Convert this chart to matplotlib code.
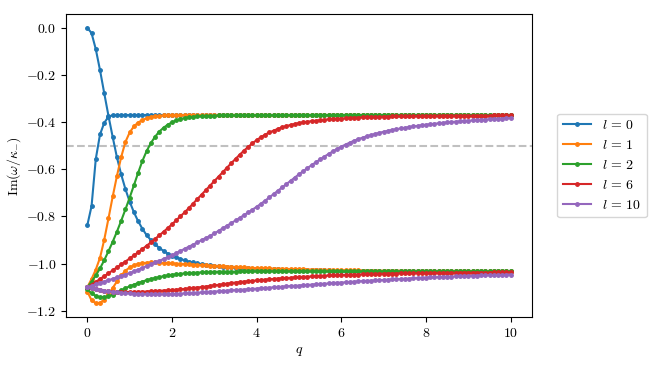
import matplotlib
matplotlib.use("Agg")
import matplotlib.pyplot as plt

plt.rcParams['font.family'] = 'serif'
plt.rcParams['font.serif'] = ['cmr10']
plt.rcParams['mathtext.fontset'] = 'cm'
plt.rcParams['axes.formatter.use_mathtext'] = True

# q grid (0.0 ... 10.0 in steps of 0.1)
q = [0.0, 0.1, 0.2, 0.3, 0.4, 0.5, 0.6, 0.7, 0.8, 0.9,
     1.0, 1.1, 1.2, 1.3, 1.4, 1.5, 1.6, 1.7, 1.8, 1.9,
     2.0, 2.1, 2.2, 2.3, 2.4, 2.5, 2.6, 2.7, 2.8, 2.9,
     3.0, 3.1, 3.2, 3.3, 3.4, 3.5, 3.6, 3.7, 3.8, 3.9,
     4.0, 4.1, 4.2, 4.3, 4.4, 4.5, 4.6, 4.7, 4.8, 4.9,
     5.0, 5.1, 5.2, 5.3, 5.4, 5.5, 5.6, 5.7, 5.8, 5.9,
     6.0, 6.1, 6.2, 6.3, 6.4, 6.5, 6.6, 6.7, 6.8, 6.9,
     7.0, 7.1, 7.2, 7.3, 7.4, 7.5, 7.6, 7.7, 7.8, 7.9,
     8.0, 8.1, 8.2, 8.3, 8.4, 8.5, 8.6, 8.7, 8.8, 8.9,
     9.0, 9.1, 9.2, 9.3, 9.4, 9.5, 9.6, 9.7, 9.8, 9.9,
     10.0]

labels = [r'$l\,=\,0$', r'$l\,=\,1$', r'$l\,=\,2$', r'$l\,=\,6$', r'$l\,=\,10$']
colors = ['#1f77b4', '#ff7f0e', '#2ca02c', '#d62728', '#9467bd']

# l = 0
l0_a = [0.000, -0.023, -0.091, -0.180, -0.278, -0.374, -0.464, -0.550, -0.622, -0.684,
        -0.737, -0.782, -0.820, -0.852, -0.879, -0.900, -0.918, -0.933, -0.946, -0.957,
        -0.966, -0.973, -0.980, -0.986, -0.991, -0.995, -0.999, -1.002, -1.005, -1.007,
        -1.009, -1.011, -1.013, -1.014, -1.016, -1.017, -1.018, -1.019, -1.020, -1.021,
        -1.022, -1.022, -1.023, -1.023, -1.024, -1.024, -1.025, -1.025, -1.026, -1.026,
        -1.026, -1.027, -1.027, -1.027, -1.028, -1.028, -1.028, -1.028, -1.029, -1.029,
        -1.029, -1.029, -1.030, -1.030, -1.030, -1.030, -1.030, -1.030, -1.031, -1.031,
        -1.031, -1.031, -1.031, -1.031, -1.031, -1.031, -1.031, -1.031, -1.031, -1.031,
        -1.031, -1.031, -1.032, -1.032, -1.032, -1.032, -1.032, -1.032, -1.032, -1.032,
        -1.032, -1.032, -1.032, -1.032, -1.032, -1.032, -1.032, -1.032, -1.032, -1.032,
        -1.032]
l0_b = [-0.837, -0.756, -0.556, -0.452, -0.403, -0.377, -0.371, -0.370, -0.370, -0.370,
        -0.370, -0.370, -0.370, -0.370, -0.370, -0.370, -0.370, -0.370, -0.370, -0.370,
        -0.370, -0.370, -0.370, -0.370, -0.370, -0.370, -0.370, -0.370, -0.370, -0.370,
        -0.370, -0.370, -0.370, -0.370, -0.370, -0.370, -0.370, -0.370, -0.370, -0.370,
        -0.370, -0.370, -0.370, -0.370, -0.370, -0.370, -0.370, -0.370, -0.370, -0.370,
        -0.370, -0.370, -0.370, -0.370, -0.370, -0.370, -0.370, -0.370, -0.370, -0.370,
        -0.370, -0.370, -0.370, -0.370, -0.370, -0.370, -0.370, -0.370, -0.370, -0.370,
        -0.370, -0.370, -0.370, -0.370, -0.370, -0.370, -0.370, -0.370, -0.370, -0.370,
        -0.370, -0.370, -0.370, -0.370, -0.370, -0.370, -0.370, -0.370, -0.370, -0.370,
        -0.370, -0.370, -0.370, -0.370, -0.370, -0.370, -0.370, -0.370, -0.370, -0.370,
        -0.370]

# l = 1
l1_a = [-1.100, -1.065, -1.025, -0.975, -0.898, -0.808, -0.715, -0.628, -0.548, -0.484,
        -0.444, -0.418, -0.402, -0.391, -0.384, -0.379, -0.376, -0.374, -0.372, -0.371,
        -0.370, -0.370, -0.370, -0.370, -0.370, -0.370, -0.370, -0.370, -0.370, -0.370,
        -0.370, -0.370, -0.370, -0.370, -0.370, -0.370, -0.370, -0.370, -0.370, -0.370,
        -0.370, -0.370, -0.370, -0.370, -0.370, -0.370, -0.370, -0.370, -0.370, -0.370,
        -0.370, -0.370, -0.370, -0.370, -0.370, -0.370, -0.370, -0.370, -0.370, -0.370,
        -0.370, -0.370, -0.370, -0.370, -0.370, -0.370, -0.370, -0.370, -0.370, -0.370,
        -0.370, -0.370, -0.370, -0.370, -0.370, -0.370, -0.370, -0.370, -0.370, -0.370,
        -0.370, -0.370, -0.370, -0.370, -0.370, -0.370, -0.370, -0.370, -0.370, -0.370,
        -0.370, -0.370, -0.370, -0.370, -0.370, -0.370, -0.370, -0.370, -0.370, -0.370,
        -0.370]
l1_b = [-1.118, -1.155, -1.168, -1.166, -1.152, -1.130, -1.103, -1.075, -1.050, -1.030,
        -1.016, -1.007, -1.001, -0.998, -0.996, -0.995, -0.995, -0.996, -0.997, -0.998,
        -0.999, -1.000, -1.001, -1.002, -1.003, -1.004, -1.005, -1.006, -1.007, -1.008,
        -1.009, -1.010, -1.011, -1.012, -1.013, -1.014, -1.015, -1.016, -1.017, -1.018,
        -1.019, -1.019, -1.020, -1.020, -1.021, -1.021, -1.022, -1.022, -1.023, -1.023,
        -1.024, -1.024, -1.025, -1.025, -1.025, -1.026, -1.026, -1.026, -1.027, -1.027,
        -1.027, -1.028, -1.028, -1.028, -1.028, -1.029, -1.029, -1.029, -1.029, -1.030,
        -1.030, -1.030, -1.030, -1.030, -1.030, -1.031, -1.031, -1.031, -1.031, -1.031,
        -1.031, -1.031, -1.031, -1.031, -1.031, -1.031, -1.031, -1.031, -1.031, -1.031,
        -1.031, -1.032, -1.032, -1.032, -1.032, -1.032, -1.032, -1.032, -1.032, -1.032,
        -1.032]

# l = 2
l2_a = [-1.100, -1.076, -1.050, -1.020, -0.985, -0.947, -0.907, -0.864, -0.818, -0.770,
        -0.720, -0.668, -0.615, -0.565, -0.523, -0.489, -0.462, -0.440, -0.424, -0.411,
        -0.401, -0.393, -0.387, -0.383, -0.380, -0.378, -0.376, -0.375, -0.374, -0.373,
        -0.373, -0.372, -0.372, -0.372, -0.372, -0.372, -0.371, -0.371, -0.371, -0.371,
        -0.371, -0.371, -0.371, -0.371, -0.371, -0.370, -0.370, -0.370, -0.370, -0.370,
        -0.370, -0.370, -0.370, -0.370, -0.370, -0.370, -0.370, -0.370, -0.370, -0.370,
        -0.370, -0.370, -0.370, -0.370, -0.370, -0.370, -0.370, -0.370, -0.370, -0.370,
        -0.370, -0.370, -0.370, -0.370, -0.370, -0.370, -0.370, -0.370, -0.370, -0.370,
        -0.370, -0.370, -0.370, -0.370, -0.370, -0.370, -0.370, -0.370, -0.370, -0.370,
        -0.370, -0.370, -0.370, -0.370, -0.370, -0.370, -0.370, -0.370, -0.370, -0.370,
        -0.370]
l2_b = [-1.108, -1.126, -1.137, -1.142, -1.142, -1.138, -1.131, -1.122, -1.113, -1.104,
        -1.096, -1.089, -1.082, -1.076, -1.070, -1.065, -1.061, -1.057, -1.053, -1.050,
        -1.047, -1.045, -1.043, -1.041, -1.040, -1.039, -1.038, -1.037, -1.036, -1.035,
        -1.035, -1.034, -1.034, -1.034, -1.034, -1.034, -1.033, -1.033, -1.033, -1.033,
        -1.033, -1.033, -1.033, -1.033, -1.033, -1.033, -1.033, -1.033, -1.033, -1.033,
        -1.033, -1.033, -1.033, -1.033, -1.033, -1.033, -1.033, -1.033, -1.033, -1.033,
        -1.033, -1.033, -1.033, -1.033, -1.033, -1.033, -1.033, -1.033, -1.033, -1.033,
        -1.033, -1.033, -1.033, -1.033, -1.033, -1.033, -1.033, -1.033, -1.033, -1.033,
        -1.033, -1.033, -1.033, -1.033, -1.033, -1.033, -1.033, -1.033, -1.033, -1.033,
        -1.033, -1.033, -1.033, -1.033, -1.033, -1.033, -1.033, -1.033, -1.033, -1.033,
        -1.033]

# l = 6
l6_a = [-1.100, -1.089, -1.077, -1.065, -1.053, -1.041, -1.028, -1.016, -1.003, -0.991,
        -0.978, -0.965, -0.952, -0.938, -0.924, -0.910, -0.895, -0.880, -0.865, -0.849,
        -0.833, -0.816, -0.799, -0.782, -0.764, -0.745, -0.726, -0.707, -0.688, -0.669,
        -0.650, -0.631, -0.612, -0.593, -0.574, -0.556, -0.538, -0.521, -0.505, -0.490,
        -0.476, -0.464, -0.453, -0.444, -0.436, -0.429, -0.422, -0.417, -0.412, -0.408,
        -0.404, -0.401, -0.398, -0.396, -0.394, -0.392, -0.390, -0.388, -0.387, -0.386,
        -0.385, -0.384, -0.383, -0.382, -0.381, -0.380, -0.379, -0.379, -0.378, -0.378,
        -0.377, -0.377, -0.376, -0.376, -0.376, -0.375, -0.375, -0.375, -0.374, -0.374,
        -0.374, -0.374, -0.374, -0.373, -0.373, -0.373, -0.373, -0.373, -0.373, -0.373,
        -0.373, -0.373, -0.373, -0.373, -0.373, -0.373, -0.372, -0.372, -0.372, -0.372,
        -0.372]
l6_b = [-1.100, -1.105, -1.109, -1.112, -1.115, -1.117, -1.118, -1.119, -1.120, -1.120,
        -1.120, -1.120, -1.119, -1.119, -1.118, -1.117, -1.116, -1.115, -1.114, -1.113,
        -1.112, -1.110, -1.109, -1.107, -1.105, -1.103, -1.101, -1.099, -1.097, -1.094,
        -1.092, -1.090, -1.087, -1.085, -1.082, -1.080, -1.078, -1.076, -1.074, -1.073,
        -1.071, -1.069, -1.068, -1.066, -1.065, -1.063, -1.062, -1.061, -1.060, -1.058,
        -1.057, -1.056, -1.055, -1.054, -1.053, -1.052, -1.051, -1.050, -1.050, -1.049,
        -1.048, -1.048, -1.047, -1.046, -1.046, -1.045, -1.045, -1.044, -1.044, -1.043,
        -1.043, -1.042, -1.042, -1.042, -1.041, -1.041, -1.041, -1.040, -1.040, -1.040,
        -1.040, -1.039, -1.039, -1.039, -1.039, -1.039, -1.039, -1.038, -1.038, -1.038,
        -1.038, -1.038, -1.038, -1.038, -1.038, -1.038, -1.037, -1.037, -1.037, -1.037,
        -1.037]

# l = 10
l10_a = [-1.100, -1.094, -1.088, -1.082, -1.076, -1.070, -1.064, -1.058, -1.052, -1.046,
         -1.040, -1.033, -1.025, -1.018, -1.010, -1.003, -0.995, -0.988, -0.980, -0.972,
         -0.964, -0.955, -0.946, -0.937, -0.928, -0.919, -0.910, -0.900, -0.891, -0.882,
         -0.872, -0.861, -0.850, -0.839, -0.828, -0.817, -0.806, -0.794, -0.783, -0.771,
         -0.759, -0.746, -0.733, -0.719, -0.705, -0.691, -0.677, -0.663, -0.649, -0.635,
         -0.621, -0.608, -0.595, -0.582, -0.570, -0.558, -0.546, -0.535, -0.524, -0.514,
         -0.504, -0.495, -0.487, -0.479, -0.472, -0.466, -0.460, -0.455, -0.450, -0.445,
         -0.441, -0.437, -0.433, -0.430, -0.427, -0.424, -0.421, -0.418, -0.416, -0.413,
         -0.411, -0.409, -0.407, -0.405, -0.403, -0.401, -0.400, -0.398, -0.397, -0.395,
         -0.394, -0.393, -0.391, -0.390, -0.389, -0.388, -0.387, -0.386, -0.385, -0.384,
         -0.383]
l10_b = [-1.100, -1.104, -1.108, -1.111, -1.114, -1.117, -1.119, -1.121, -1.123, -1.125,
         -1.126, -1.127, -1.128, -1.129, -1.129, -1.130, -1.130, -1.130, -1.130, -1.129,
         -1.129, -1.128, -1.127, -1.126, -1.125, -1.124, -1.123, -1.122, -1.121, -1.119,
         -1.118, -1.117, -1.116, -1.115, -1.113, -1.112, -1.111, -1.110, -1.108, -1.107,
         -1.106, -1.104, -1.103, -1.102, -1.100, -1.099, -1.098, -1.096, -1.095, -1.094,
         -1.093, -1.091, -1.090, -1.089, -1.087, -1.086, -1.085, -1.084, -1.082, -1.081,
         -1.080, -1.079, -1.078, -1.076, -1.075, -1.074, -1.073, -1.072, -1.071, -1.070,
         -1.069, -1.068, -1.067, -1.066, -1.065, -1.064, -1.063, -1.062, -1.061, -1.060,
         -1.059, -1.058, -1.058, -1.057, -1.056, -1.055, -1.055, -1.054, -1.053, -1.053,
         -1.052, -1.051, -1.051, -1.050, -1.050, -1.049, -1.049, -1.048, -1.048, -1.047,
         -1.047]

branches = [(l0_a, l0_b), (l1_a, l1_b), (l2_a, l2_b), (l6_a, l6_b), (l10_a, l10_b)]

fig, ax = plt.subplots(figsize=(6.55, 3.67), dpi=100)
fig.subplots_adjust(left=0.101, right=0.812, top=0.962, bottom=0.136)

ax.axhline(-0.5, color='#c0c0c0', ls='--', lw=1.5, zorder=1)

for (ya, yb), lab, c in zip(branches, labels, colors):
    ax.plot(q, ya, '.-', color=c, ms=5, lw=1.5, label=lab)
    ax.plot(q, yb, '.-', color=c, ms=5, lw=1.5)

ax.set_xticks([0, 2, 4, 6, 8, 10])
ax.set_yticks([0.0, -0.2, -0.4, -0.6, -0.8, -1.0, -1.2])
ax.set_xlabel(r'$q$')
ax.set_ylabel(r'$\mathrm{Im}(\omega/\kappa_{-})$', labelpad=2)
ax.legend(loc='center left', bbox_to_anchor=(1.04, 0.5))

fig.savefig('out.png', dpi=100)
